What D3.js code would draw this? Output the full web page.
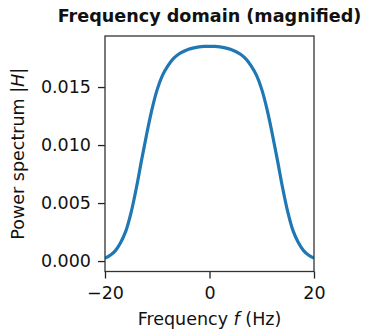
<!DOCTYPE html>
<html>
<head>
<meta charset="utf-8">
<script src="https://cdn.jsdelivr.net/npm/d3@7"></script>
<style>
  html, body { margin: 0; padding: 0; background: #fff; }
  svg { display: block; font-family: "DejaVu Sans", sans-serif; }
</style>
</head>
<body>
<svg id="chart" width="365" height="332"></svg>
<script>
const frequencies = [-20,-19,-18,-17,-16,-15,-14,-13,-12,-11,-10,-9,-8,-7,-6,-5,-4,-3,-2,-1,0,1,2,3,4,5,6,7,8,9,10,11,12,13,14,15,16,17,18,19,20];
const power = [0.00025,0.0005,0.0009,0.0016,0.0026,0.0042,0.0063,0.0087,0.0110,0.0131,0.0148,0.0160,0.0168,0.0174,0.0178,0.01806,0.01826,0.01838,0.01846,0.0185,0.01851,0.0185,0.01846,0.01838,0.01826,0.01806,0.0178,0.0174,0.0168,0.0160,0.0148,0.0131,0.0110,0.0087,0.0063,0.0042,0.0026,0.0016,0.0009,0.0005,0.00025];
const xTicks = [-20, 0, 20];
const yTicks = [0.000, 0.005, 0.010, 0.015];
const xDomain = [-20, 20];
const yDomain = [-0.0009, 0.0194];

const svg = d3.select("#chart");
const L = 105, R = 314, T = 36, B = 271.5;
const x = d3.scaleLinear().domain(xDomain).range([L, R]);
const y = d3.scaleLinear().domain(yDomain).range([B, T]);
const fs = 17.5;

// line
const line = d3.line().x((d,i) => x(frequencies[i])).y(d => y(d)).curve(d3.curveCatmullRom.alpha(0.5));
svg.append("defs").append("clipPath").attr("id","clip")
  .append("rect").attr("x", L).attr("y", T).attr("width", R-L).attr("height", B-T);
svg.append("path").datum(power)
  .attr("d", line)
  .attr("fill","none").attr("stroke","#1f77b4").attr("stroke-width",3.2)
  .attr("stroke-linecap","butt")
  .attr("clip-path","url(#clip)");

// axes
const xAxis = d3.axisBottom(x).tickValues(xTicks).tickSize(7).tickPadding(6)
  .tickFormat(d => d < 0 ? "\u2212" + Math.abs(d) : String(d));
const gx = svg.append("g").attr("transform", `translate(0,${B})`).call(xAxis);
const yAxis = d3.axisLeft(y).tickValues(yTicks).tickSize(7).tickPadding(7)
  .tickFormat(d3.format(".3f"));
const gy = svg.append("g").attr("transform", `translate(${L},0)`).call(yAxis);
[gx, gy].forEach(g => {
  g.select(".domain").remove();
  g.selectAll(".tick line").attr("stroke","#222").attr("stroke-width",1.3);
  g.selectAll(".tick text").attr("fill","#111").style("font-size", fs+"px").style("font-family","DejaVu Sans");
});
gx.selectAll(".tick text").attr("dy","0.85em");

// frame
svg.append("rect").attr("x", L).attr("y", T).attr("width", R-L).attr("height", B-T)
  .attr("fill","none").attr("stroke","#333").attr("stroke-width",1.3);

// title
svg.append("text").attr("x", (L+R)/2).attr("y", 22).attr("text-anchor","middle")
  .style("font-size", "17.6px").style("font-weight","bold").attr("fill","#111")
  .text("Frequency domain (magnified)");

// x label
const xl = svg.append("text").attr("x", (L+R)/2).attr("y", 325).attr("text-anchor","middle")
  .style("font-size", fs+"px").attr("fill","#111");
xl.append("tspan").text("Frequency ");
xl.append("tspan").style("font-style","italic").text("f");
xl.append("tspan").text(" (Hz)");

// y label
const yl = svg.append("text").attr("transform", `translate(24,${(T+B)/2}) rotate(-90)`)
  .attr("text-anchor","middle").style("font-size", fs+"px").attr("fill","#111");
yl.append("tspan").text("Power spectrum |");
yl.append("tspan").style("font-style","italic").text("H");
yl.append("tspan").text("|");
</script>
</body>
</html>
